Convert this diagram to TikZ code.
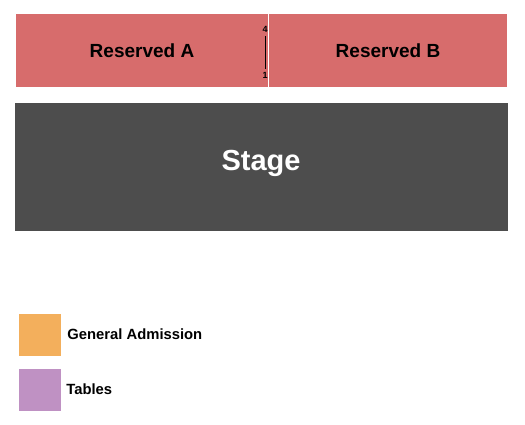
\documentclass[tikz,border=0pt]{standalone}
\usepackage{fontspec}
\setmainfont{Liberation Sans}
\usetikzlibrary{positioning}
\definecolor{reservedcolor}{RGB}{215,108,108}
\definecolor{stagecolor}{RGB}{77,77,77}
\definecolor{gacolor}{RGB}{243,175,92}
\definecolor{tablecolor}{RGB}{191,145,195}

\begin{document}
\begin{tikzpicture}[x=1pt,y=-1pt,
  section/.style={fill=reservedcolor, inner sep=0pt, font=\bfseries\fontsize{19}{19}\selectfont},
  swatch/.style={inner sep=0pt, minimum width=42pt, minimum height=42pt},
  rownum/.style={inner sep=1pt, font=\bfseries\fontsize{9}{9}\selectfont},
  legendtext/.style={anchor=west, inner sep=0pt, font=\bfseries\fontsize{14.8}{14.8}\selectfont}]
\useasboundingbox (0,0) rectangle (525,424);
\node[section, minimum width=252pt, minimum height=73pt] (resA) at (142,50.5) {Reserved A};
\node[section, minimum width=238pt, minimum height=73pt] (resB) at (388,50.5) {Reserved B};

% row numbers between the two sections
\node[rownum] (rowtop) at (265,29) {4};
\node[rownum] (rowbot) at (265,75) {1};
\draw[line width=0.9pt, shorten <=3pt, shorten >=2pt] (rowtop) -- (rowbot);

\node[fill=stagecolor, text=white, inner sep=0pt, minimum width=493pt, minimum height=128pt,
  font=\bfseries\fontsize{29}{29}\selectfont] (stage) at (261.5,167) {};
\node[text=white, inner sep=0pt, font=\bfseries\fontsize{29}{29}\selectfont] (stagelabel) at (261,163) {Stage};

% legend
\node[swatch, fill=gacolor] (ga) at (40,334.5) {};
\node[legendtext, right=6pt of ga] (galabel) {General Admission};
\node[swatch, fill=tablecolor] (tables) at (40,389.5) {};
\node[legendtext, right=5pt of tables] (tablelabel) {Tables};
\end{tikzpicture}
\end{document}
